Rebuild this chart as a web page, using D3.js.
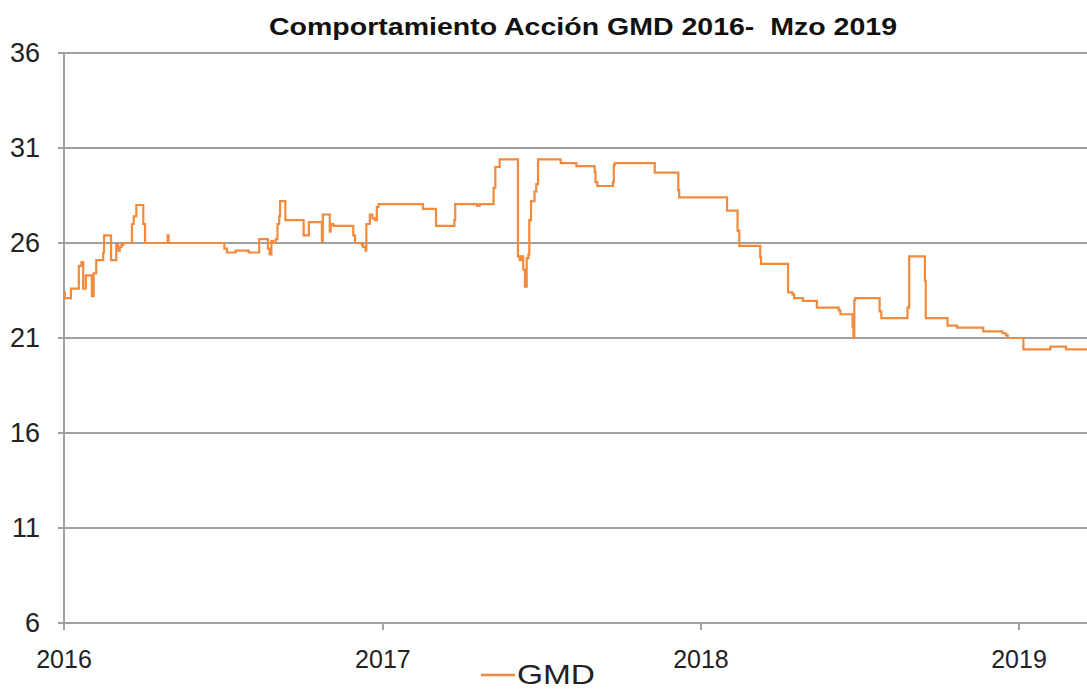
<!DOCTYPE html>
<html>
<head>
<meta charset="utf-8">
<script src="https://cdn.jsdelivr.net/npm/d3@7"></script>
<style>
  body { margin: 0; background: #fff; }
  text { font-family: "Liberation Sans Narrow", "Arial Narrow", "Liberation Sans", sans-serif; fill: #222; }
</style>
</head>
<body>
<script>
//chart values (step changes of the GMD share price)
var dates = [
  "2016-01-01","2016-01-02","2016-01-09","2016-01-18","2016-01-21","2016-01-23","2016-01-26",
  "2016-02-02","2016-02-04","2016-02-07","2016-02-15","2016-02-16","2016-02-24",
  "2016-03-01","2016-03-03","2016-03-05","2016-03-07","2016-03-09","2016-03-19","2016-03-21","2016-03-24",
  "2016-04-01","2016-04-03","2016-04-29","2016-04-30",
  "2016-07-03","2016-07-06","2016-07-16","2016-07-31",
  "2016-08-12","2016-08-22","2016-08-24","2016-08-26","2016-08-28","2016-08-31",
  "2016-09-02","2016-09-04","2016-09-05","2016-09-11",
  "2016-10-02","2016-10-08","2016-10-23","2016-10-24",
  "2016-11-01","2016-11-02","2016-11-05","2016-11-28","2016-11-30",
  "2016-12-08","2016-12-09","2016-12-12","2016-12-13","2016-12-17","2016-12-20","2016-12-23","2016-12-25","2016-12-27",
  "2017-02-16","2017-03-03","2017-03-24","2017-03-25","2017-04-19","2017-04-22",
  "2017-05-08","2017-05-10","2017-05-15",
  "2017-06-05","2017-06-07","2017-06-09","2017-06-11","2017-06-13","2017-06-15","2017-06-17","2017-06-18",
  "2017-06-20","2017-06-24","2017-06-26","2017-06-28",
  "2017-07-24","2017-08-11","2017-09-01","2017-09-02","2017-09-04","2017-09-22","2017-09-23","2017-09-24",
  "2017-11-09","2017-12-06","2017-12-07",
  "2018-01-31","2018-02-12","2018-02-14","2018-03-10","2018-03-11",
  "2018-04-11","2018-04-16","2018-04-18","2018-04-28","2018-05-14",
  "2018-06-08","2018-06-10","2018-06-24","2018-06-25","2018-06-26","2018-06-27",
  "2018-07-25","2018-07-27","2018-08-26","2018-08-28","2018-09-15","2018-09-16",
  "2018-10-11","2018-10-22","2018-11-21","2018-12-13","2018-12-17","2018-12-19",
  "2019-01-06","2019-02-06","2019-02-24","2019-03-25"
];
var prices = [
  23.4, 23.1, 23.6, 24.8, 25.0, 23.6, 24.3,
  23.2, 24.4, 25.1, 25.5, 26.4, 25.1,
  25.9, 25.6, 25.8, 25.9, 26.0, 27.0, 27.4, 28.0,
  27.0, 26.0, 26.4, 26.0,
  25.7, 25.5, 25.6, 25.5,
  26.2, 25.7, 25.4, 26.1, 26.0, 26.2,
  27.0, 27.4, 28.2, 27.2,
  26.4, 27.1, 26.1, 27.5,
  26.6, 27.0, 26.9, 26.4, 26.0,
  25.9, 25.8, 25.6, 27.0, 27.5, 27.3, 27.2, 27.9, 28.05,
  27.8, 26.9, 27.2, 28.05, 27.95, 28.05,
  28.9, 30.0, 30.4,
  25.3, 25.1, 25.3, 24.6, 23.7, 25.2, 25.4, 27.2,
  28.2, 28.7, 29.1, 30.4,
  30.2, 30.05, 29.75, 29.2, 29.0, 29.2, 30.1, 30.2,
  29.7, 28.8, 28.4,
  27.7, 26.65, 25.85, 25.25, 24.9,
  23.4, 23.3, 23.1, 22.95, 22.6,
  22.45, 22.25, 21.6, 21.0, 23.0, 23.1,
  22.4, 22.05, 22.6, 25.3, 24.0, 22.05,
  21.65, 21.55, 21.35, 21.25, 21.15, 21.0,
  20.4, 20.55, 20.4, 20.4
];
var yTicks = [6, 11, 16, 21, 26, 31, 36];
var yearTicks = ["2016-01-01", "2017-01-01", "2018-01-01", "2019-01-01"];
var titleText = "Comportamiento Acción GMD 2016-  Mzo 2019";
var seriesName = "GMD";

var width = 1087,
    height = 689;

var svg = d3.select("body")
    .append("svg")
    .attr("width", width)
    .attr("height", height);

var parse = d3.utcParse("%Y-%m-%d");

var x = d3.scaleUtc()
    .domain([parse("2016-01-01"), parse("2019-01-01")])
    .range([64, 1019]);

var y = d3.scaleLinear()
    .domain([6, 36])
    .range([623, 53]);

//title
svg.append("text")
    .attr("x", 583)
    .attr("y", 35)
    .attr("text-anchor", "middle")
    .attr("font-size", 24)
    .attr("font-weight", "bold")
    .attr("textLength", 628)
    .attr("lengthAdjust", "spacingAndGlyphs")
    .style("fill", "#111")
    .style("white-space", "pre")
    .text(titleText);

//horizontal gridlines
svg.selectAll(".grid")
    .data(yTicks)
    .enter()
    .append("line")
    .attr("class", "grid")
    .attr("x1", 58)
    .attr("x2", width)
    .attr("y1", function (d) { return y(d); })
    .attr("y2", function (d) { return y(d); })
    .attr("stroke", "#a0a0a0")
    .attr("stroke-width", 2);

//y axis line
svg.append("line")
    .attr("x1", 64).attr("x2", 64)
    .attr("y1", y(36)).attr("y2", y(6) + 1)
    .attr("stroke", "#a0a0a0")
    .attr("stroke-width", 2);

//y labels
svg.selectAll(".ylab")
    .data(yTicks)
    .enter()
    .append("text")
    .attr("class", "ylab")
    .attr("x", 40)
    .attr("y", function (d) { return y(d) + 9; })
    .attr("text-anchor", "end")
    .attr("font-size", 27)
    .text(function (d) { return d; });

//x ticks and labels
var years = yearTicks.map(parse);
svg.selectAll(".xtick")
    .data(years)
    .enter()
    .append("line")
    .attr("class", "xtick")
    .attr("x1", function (d) { return x(d); })
    .attr("x2", function (d) { return x(d); })
    .attr("y1", y(6))
    .attr("y2", y(6) + 7)
    .attr("stroke", "#a0a0a0")
    .attr("stroke-width", 2);

svg.selectAll(".xlab")
    .data(years)
    .enter()
    .append("text")
    .attr("class", "xlab")
    .attr("x", function (d) { return x(d); })
    .attr("y", 668)
    .attr("text-anchor", "middle")
    .attr("font-size", 25)
    .text(function (d) { return d.getUTCFullYear(); });

//price line
var points = dates.map(function (d, i) {
    return { date: parse(d), value: prices[i] };
});

var line = d3.line()
    .x(function (d) { return x(d.date); })
    .y(function (d) { return y(d.value); })
    .curve(d3.curveStepAfter);

svg.append("path")
    .datum(points)
    .attr("d", line)
    .attr("fill", "none")
    .attr("stroke", "#F28A3D")
    .attr("stroke-width", 2.2);

//legend
svg.append("line")
    .attr("x1", 481).attr("x2", 515)
    .attr("y1", 675).attr("y2", 675)
    .attr("stroke", "#F28A3D")
    .attr("stroke-width", 2.5);

svg.append("text")
    .attr("x", 517)
    .attr("y", 684)
    .attr("font-size", 28)
    .attr("textLength", 78)
    .attr("lengthAdjust", "spacingAndGlyphs")
    .text(seriesName);
</script>
</body>
</html>
